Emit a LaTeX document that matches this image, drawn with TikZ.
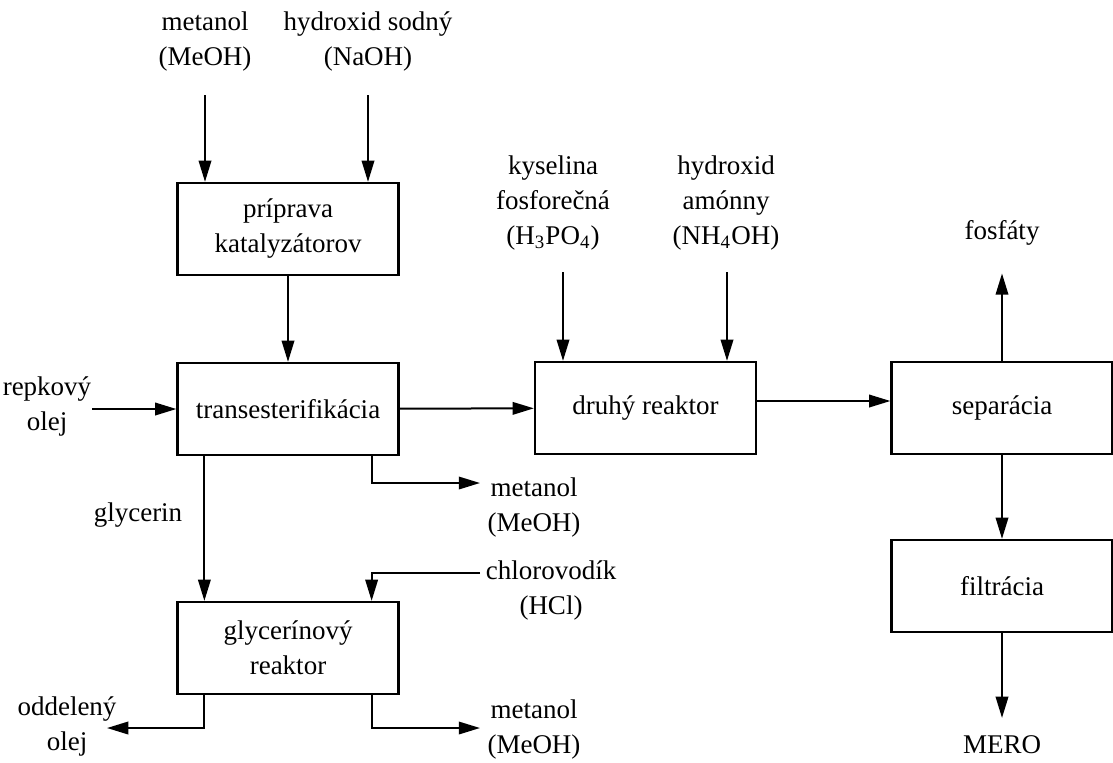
\documentclass[tikz,border=0pt]{standalone}
\usepackage{fontspec}
\setmainfont{Liberation Serif}
\usetikzlibrary{arrows.meta}

\tikzset{
  unit/.style={draw, line width=0.9pt, minimum width=88.4pt, minimum height=36.8pt, inner sep=0pt, align=center},
  lbl/.style={align=center, inner sep=0pt},
  flow/.style={line width=0.8pt, -{Triangle[length=8.5pt,width=5pt]}}
}

\begin{document}
\begin{tikzpicture}[x=0.4pt, y=-0.4pt, font=\fontsize{10.8}{14}\selectfont]
    \useasboundingbox (0,0) rectangle (1113,762);

    % process units
    \node[unit] (prip)  at (288,229)  {príprava\\katalyzátorov};
    \node[unit] (trans) at (288,409)  {transesterifikácia};
    \node[unit] (druhy) at (645.5,408) {druhý reaktor};
    \node[unit] (sep)   at (1002,408) {separácia};
    \node[unit] (filt)  at (1002,586) {filtrácia};
    \node[unit] (glyc)  at (288,648)  {glycerínový\\reaktor};

    % streams in and out
    \node[lbl] (meoh1) at (205,41)  {metanol\\(MeOH)};
    \node[lbl] (naoh)  at (368,41)  {hydroxid sodný\\(NaOH)};
    \node[lbl] (hpo)   at (553,203) {kyselina\\fosforečná\\(H\textsubscript{3}PO\textsubscript{4})};
    \node[lbl] (nhoh)  at (726,203) {hydroxid\\amónny\\(NH\textsubscript{4}OH)};
    \node[lbl] (fosf)  at (1002,233) {fosfáty};
    \node[lbl] (repka) at (47,406)  {repkový\\olej};
    \node[lbl] (meoh2) at (534,507) {metanol\\(MeOH)};
    \node[lbl] (glyl)  at (138,515) {glycerin};
    \node[lbl] (hcl)   at (551,590) {chlorovodík\\(HCl)};
    \node[lbl] (odd)   at (67,726)  {oddelený\\olej};
    \node[lbl] (meoh3) at (534,729) {metanol\\(MeOH)};
    \node[lbl] (mero)  at (1002,745) {MERO};

    \coordinate (in1) at (205,95);
    \coordinate (in2) at (368,95);
    \coordinate (in3) at (92,409);
    \coordinate (in4) at (563,272);
    \coordinate (in5) at (727,272);
    \coordinate (in6) at (480,573);
    \coordinate (out1) at (480,483);
    \coordinate (out2) at (107,728);
    \coordinate (out3) at (480,728);

    % arrows
    \draw[flow] (in1) -- (in1 |- prip.north);
    \draw[flow] (in2) -- (in2 |- prip.north);
    \draw[flow] (prip) -- (trans);
    \draw[flow] (in3) -- (trans.west);
    \draw[flow] (trans) -- (druhy);
    \draw[flow] (in4) -- (in4 |- druhy.north);
    \draw[flow] (in5) -- (in5 |- druhy.north);
    \draw[flow] ([yshift=2.8pt]druhy.east) -- ([yshift=2.8pt]sep.west);
    \draw[flow, shorten >=11pt] (sep.north) -- (fosf.south);
    \draw[flow] (sep) -- (filt);
    \draw[flow, shorten >=7pt] (filt.south) -- (mero.north);
    \draw[flow] ([xshift=-11.2pt]trans.south east) |- (out1);
    \draw[flow] ([xshift=11.2pt]trans.south west) -- ([xshift=11.2pt]glyc.north west);
    \draw[flow] (in6) -| ([xshift=-11.2pt]glyc.north east);
    \draw[flow] ([xshift=11.2pt]glyc.south west) |- (out2);
    \draw[flow] ([xshift=-11.2pt]glyc.south east) |- (out3);
\end{tikzpicture}
\end{document}
